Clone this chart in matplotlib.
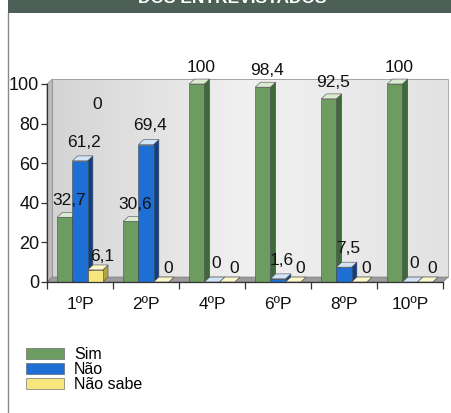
import numpy as np
import matplotlib
matplotlib.use("Agg")
import matplotlib.pyplot as plt
from matplotlib.patches import Polygon, Rectangle, Patch

plt.rcParams['font.family'] = ['Liberation Sans', 'DejaVu Sans']

categories = ["1ºP", "2ºP", "4ºP", "6ºP", "8ºP", "10ºP"]
series_names = ["Sim", "Não", "Não sabe"]
sim = [32.7, 30.6, 100, 98.4, 92.5, 100]
nao = [61.2, 69.4, 0, 1.6, 7.5, 0]
nao_sabe = [6.1, 0, 0, 0, 0, 0]
series = [sim, nao, nao_sabe]
yticks = [0, 20, 40, 60, 80, 100]
title_text = "DOS ENTREVISTADOS"

front = ["#6c9c5f", "#1d6fd4", "#f6e67c"]
side = ["#3e6a3a", "#0c3f8a", "#b3a340"]
top = ["#d9ecd2", "#d2e4f7", "#fdf7cc"]

W, H = 452, 413
fig = plt.figure(figsize=(W / 100, H / 100), dpi=100)
fig.patch.set_facecolor("white")

# title bar
fig.patches.append(Rectangle((8 / W, 1 - 13 / H), 1 - 8 / W, 13 / H,
                             transform=fig.transFigure, facecolor="#4d6057",
                             edgecolor="none", zorder=0))
fig.text(232 / W, 1 - 3 / H, title_text, color="white", fontsize=12.5,
         fontweight="bold", ha="center", va="baseline")
# left border line
fig.add_artist(plt.Line2D([8 / W, 8 / W], [0, 1 - 13 / H], transform=fig.transFigure,
                          color="#8a8a8a", lw=1.0))

ax = fig.add_axes([47 / W, 131 / H, 396 / W, 198 / H])
ax.set_xlim(-0.5, 5.5)
ax.set_ylim(0, 100)
ax.patch.set_alpha(0)

dx, dy = 0.08, 2.5
# back wall gradient
grad = np.linspace(0, 1, 256).reshape(1, -1)
cmap = matplotlib.colors.LinearSegmentedColormap.from_list("w", ["#d4d4d4", "#f1f1f1", "#e2e2e2"])
ax.imshow(grad, extent=(-0.5 + dx, 5.5 + dx, dy, 100 + dy), aspect="auto",
          cmap=cmap, zorder=0, clip_on=False)
ax.add_patch(Rectangle((-0.5 + dx, dy), 6, 100, fill=False, edgecolor="#9a9a9a",
                       lw=0.6, zorder=0.5, clip_on=False))
# left side wall and floor
ax.add_patch(Polygon([(-0.5, 0), (-0.5 + dx, dy), (-0.5 + dx, 100 + dy), (-0.5, 100)],
                     closed=True, facecolor="#bdbdbd", edgecolor="#8c8c8c", lw=0.5,
                     zorder=0.6, clip_on=False))
ax.add_patch(Polygon([(-0.5, 0), (5.5, 0), (5.5 + dx, dy), (-0.5 + dx, dy)],
                     closed=True, facecolor="#9c9c9c", edgecolor="#7a7a7a", lw=0.5,
                     zorder=0.6, clip_on=False))

w = 0.23
x = np.arange(len(categories))
offsets = [-w, 0, w]
label_dx = [0.06, 0.06, 0.11]
label_dy = [8.5, 9.5, 7.0]


def fmt(v):
    if float(v).is_integer():
        return str(int(v))
    return ("%.1f" % v).replace(".", ",")


z = 2
for i in range(len(categories)):
    for s in range(3):
        v = series[s][i]
        c = x[i] + offsets[s]
        l, r = c - w / 2, c + w / 2
        ax.bar([c], [v], width=w, color=front[s], edgecolor="#4a4a4a",
               linewidth=0.4, zorder=z + 0.2, clip_on=False)
        ax.add_patch(Polygon([(r, 0), (r + dx, dy), (r + dx, v + dy), (r, v)], closed=True,
                             facecolor=side[s], edgecolor="#4a4a4a", lw=0.4, zorder=z + 0.1,
                             clip_on=False))
        ax.add_patch(Polygon([(l, v), (r, v), (r + dx, v + dy), (l + dx, v + dy)], closed=True,
                             facecolor=top[s], edgecolor="#4a4a4a", lw=0.4, zorder=z + 0.3,
                             clip_on=False))
        z += 1
        ax.text(c + label_dx[s], v + label_dy[s], fmt(v), ha="center", va="center",
                fontsize=12.5, color="#111111", zorder=100, clip_on=False)

# stray label in original
ax.text(0.26, 89.4, "0", ha="center", va="center", fontsize=12.5, color="#111111", zorder=100)

ax.spines["top"].set_visible(False)
ax.spines["right"].set_visible(False)
for sp in ("left", "bottom"):
    ax.spines[sp].set_color("#333333")
    ax.spines[sp].set_linewidth(0.9)
    ax.spines[sp].set_zorder(50)

ax.set_yticks(yticks)
ax.set_yticklabels([str(t) for t in yticks], fontsize=13)
ax.tick_params(axis="y", length=4, width=0.9, pad=1.5, colors="#333333", labelcolor="#111111")
ax.set_xticks(x)
ax.set_xticklabels(categories, fontsize=12.5)
ax.set_xticks(np.arange(-0.5, 5.6, 1), minor=True)
ax.tick_params(axis="x", which="major", length=0, pad=11, labelcolor="#111111")
ax.tick_params(axis="x", which="minor", length=5, width=0.9, colors="#333333")

handles = [Patch(facecolor=front[k], edgecolor="#555555", linewidth=0.4) for k in range(3)]
fig.legend(handles, series_names, loc="upper left", bbox_to_anchor=(26 / W, 1 - 347 / H),
           frameon=False, fontsize=11.5, labelspacing=0.0, handlelength=2.4,
           handleheight=0.65, handletextpad=0.6, borderpad=0, borderaxespad=0)

fig.savefig("out.png", dpi=100)
